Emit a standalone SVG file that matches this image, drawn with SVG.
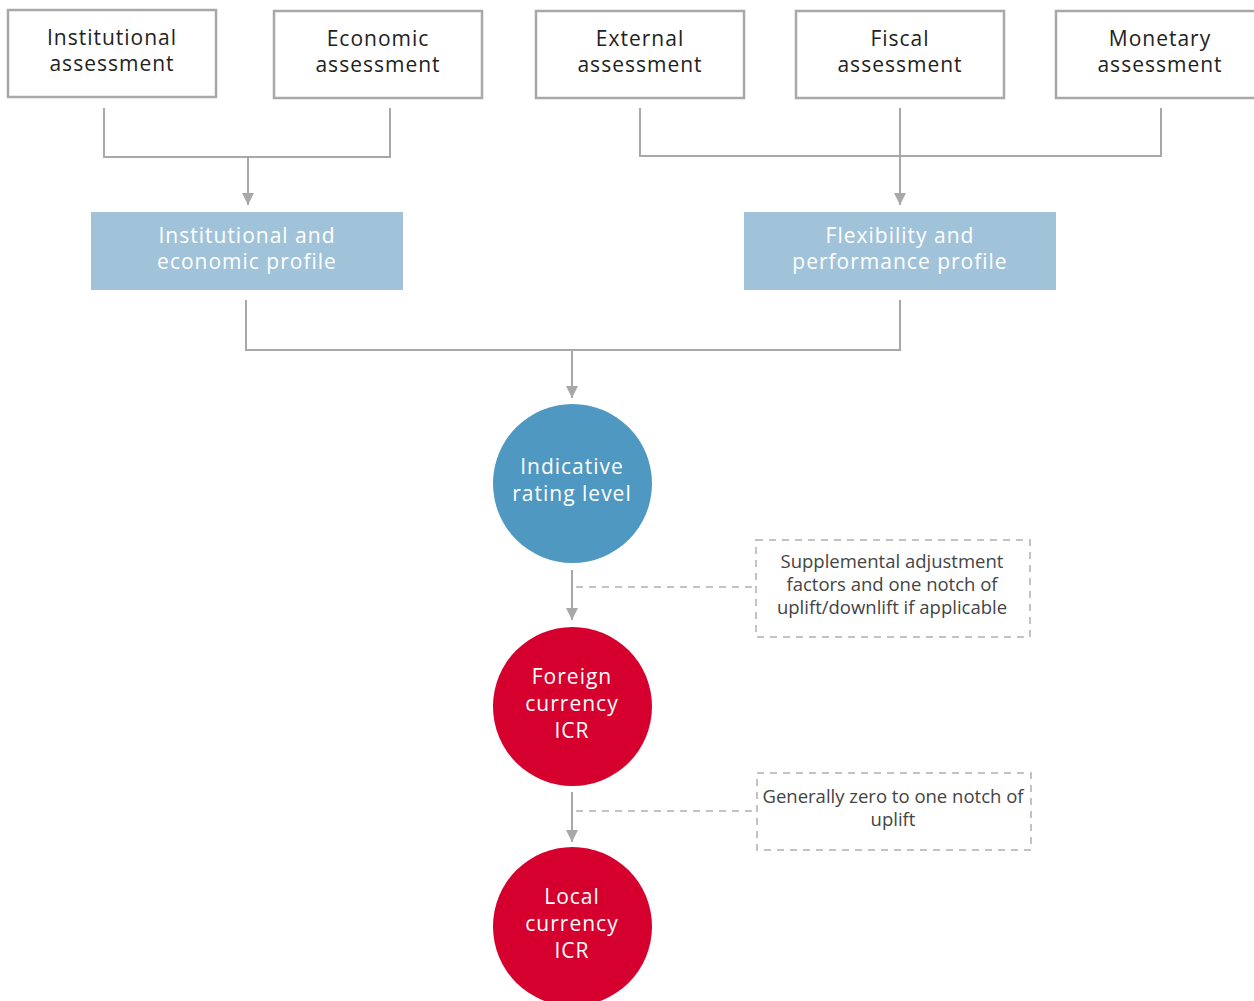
<svg xmlns="http://www.w3.org/2000/svg" width="1254" height="1001" viewBox="0 0 1254 1001">
<defs>
<style>
.box{fill:#fff;stroke:#a8a8a8;stroke-width:2.5}
.prof{fill:#a1c3da}
.t{font-family:"Open Sans","Liberation Sans",sans-serif;font-size:21px;letter-spacing:1px;text-anchor:middle}
.dk{fill:#222}
.wh{fill:#fff}
.sm{font-family:"Open Sans","Liberation Sans",sans-serif;font-size:18.5px;letter-spacing:0;text-anchor:middle;fill:#444}
.ln{fill:none;stroke:#a8a8a8;stroke-width:2}
.da{fill:none;stroke:#b0b0b0;stroke-width:1.5;stroke-dasharray:7,6}
</style>
<marker id="ah" viewBox="0 0 10 10" refX="10" refY="5" markerWidth="14" markerHeight="12" markerUnits="userSpaceOnUse" orient="auto">
<path d="M0,0 L10,5 L0,10 z" fill="#a8a8a8"/>
</marker>
</defs>
<rect width="1254" height="1001" fill="#fff"/>
<g id="connectors">
<polyline class="ln" points="104,108 104,157 390,157 390,108"/>
<line class="ln" x1="248" y1="157" x2="248" y2="205" marker-end="url(#ah)"/>
<polyline class="ln" points="640,108 640,156 1161,156 1161,108"/>
<line class="ln" x1="900" y1="108" x2="900" y2="205" marker-end="url(#ah)"/>
<polyline class="ln" points="246,300 246,350 900,350 900,300"/>
<line class="ln" x1="572" y1="350" x2="572" y2="398" marker-end="url(#ah)"/>
<line class="ln" x1="572" y1="570" x2="572" y2="620" marker-end="url(#ah)"/>
<line class="da" x1="576" y1="587" x2="756" y2="587"/>
<line class="ln" x1="572" y1="792" x2="572" y2="842" marker-end="url(#ah)"/>
<line class="da" x1="576" y1="811" x2="757" y2="811"/>
</g>
<g id="n-institutional">
<rect class="box" x="8" y="10" width="208" height="87"/>
<text class="t dk" x="112" y="45">Institutional</text>
<text class="t dk" x="112" y="71">assessment</text>
</g>
<g id="n-economic">
<rect class="box" x="274" y="11" width="208" height="87"/>
<text class="t dk" x="378" y="46">Economic</text>
<text class="t dk" x="378" y="72">assessment</text>
</g>
<g id="n-external">
<rect class="box" x="536" y="11" width="208" height="87"/>
<text class="t dk" x="640" y="46">External</text>
<text class="t dk" x="640" y="72">assessment</text>
</g>
<g id="n-fiscal">
<rect class="box" x="796" y="11" width="208" height="87"/>
<text class="t dk" x="900" y="46">Fiscal</text>
<text class="t dk" x="900" y="72">assessment</text>
</g>
<g id="n-monetary">
<rect class="box" x="1056" y="11" width="208" height="87"/>
<text class="t dk" x="1160" y="46">Monetary</text>
<text class="t dk" x="1160" y="72">assessment</text>
</g>
<g id="n-ie-profile">
<rect class="prof" x="91" y="212" width="312" height="78"/>
<text class="t wh" x="247" y="243">Institutional and</text>
<text class="t wh" x="247" y="269">economic profile</text>
</g>
<g id="n-fp-profile">
<rect class="prof" x="744" y="212" width="312" height="78"/>
<text class="t wh" x="900" y="243">Flexibility and</text>
<text class="t wh" x="900" y="269">performance profile</text>
</g>
<g id="n-indicative">
<circle cx="572.5" cy="483.5" r="79.5" fill="#4f98c1"/>
<text class="t wh" x="572" y="474">Indicative</text>
<text class="t wh" x="572" y="501">rating level</text>
</g>
<g id="n-supplemental">
<rect class="da" x="756" y="540" width="274" height="97"/>
<text class="sm" x="892" y="568">Supplemental adjustment</text>
<text class="sm" x="892" y="591">factors and one notch of</text>
<text class="sm" x="892" y="614">uplift/downlift if applicable</text>
</g>
<g id="n-foreign">
<circle cx="572.5" cy="706.5" r="79.5" fill="#d5002d"/>
<text class="t wh" x="572" y="684">Foreign</text>
<text class="t wh" x="572" y="711">currency</text>
<text class="t wh" x="572" y="738">ICR</text>
</g>
<g id="n-generally">
<rect class="da" x="757" y="773" width="274" height="77"/>
<text class="sm" x="893" y="803">Generally zero to one notch of</text>
<text class="sm" x="893" y="826">uplift</text>
</g>
<g id="n-local">
<circle cx="572.5" cy="926.5" r="79.5" fill="#d5002d"/>
<text class="t wh" x="572" y="904">Local</text>
<text class="t wh" x="572" y="931">currency</text>
<text class="t wh" x="572" y="958">ICR</text>
</g>
</svg>
